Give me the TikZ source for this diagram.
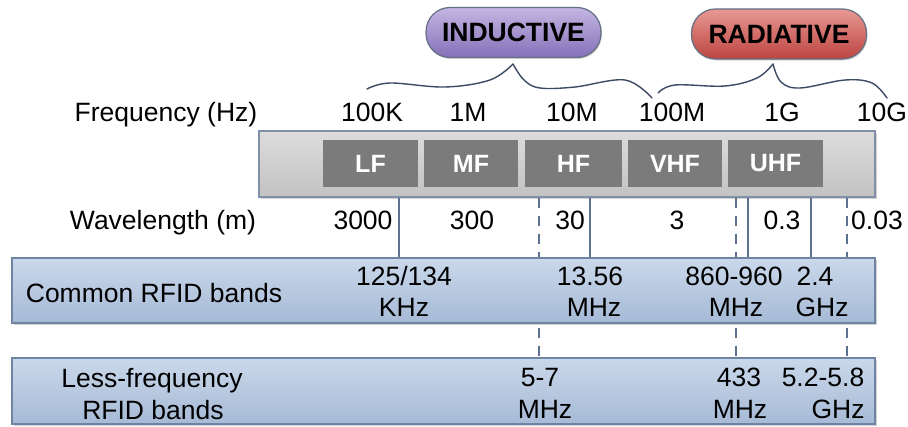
\documentclass[tikz,border=0pt]{standalone}
\usepackage{fontspec}
\setmainfont{Liberation Sans}
\usetikzlibrary{shadows}
\definecolor{linec}{HTML}{5D7290}
\definecolor{darkbox}{HTML}{7B7B7B}
\definecolor{bartop}{HTML}{DCDCDC}
\definecolor{barbot}{HTML}{C2C2C2}
\definecolor{barline}{HTML}{8090A8}
\definecolor{bluetop}{HTML}{CAD8EA}
\definecolor{bluebot}{HTML}{A6BAD6}
\definecolor{blueline}{HTML}{6F84A3}
\definecolor{purtop}{HTML}{C4B6E2}
\definecolor{purbot}{HTML}{8470B8}
\definecolor{redtop}{HTML}{E89893}
\definecolor{redbot}{HTML}{BC4440}
\definecolor{bracec}{HTML}{3C4B63}
\begin{document}
\begin{tikzpicture}[x=1pt,y=-1pt,
  lbl/.style={anchor=base, inner sep=0pt, font=\fontsize{26.5}{29}\selectfont},
  bandbox/.style={fill=darkbox, inner sep=0pt, minimum height=47pt,
    text=white, font=\fontsize{25}{28}\selectfont\bfseries},
  barbox/.style={draw=barline, line width=1.2pt, top color=bartop, bottom color=barbot,
    inner sep=0pt, drop shadow={shadow xshift=1.5pt, shadow yshift=-2pt, opacity=.35}},
  bluebox/.style={draw=blueline, line width=1.2pt, top color=bluetop, bottom color=bluebot,
    inner sep=0pt, minimum width=863pt, drop shadow={shadow xshift=1.5pt, shadow yshift=-2pt, opacity=.35}},
  pill/.style={rounded corners=24pt, draw=bracec!80, line width=1.2pt, inner sep=0pt,
    minimum width=175pt, minimum height=50pt, font=\fontsize{26.5}{29}\selectfont\bfseries,
    drop shadow={shadow xshift=1pt, shadow yshift=-1.5pt, opacity=.3}},
  vsolid/.style={draw=linec, line width=1.6pt},
  vdash/.style={draw=linec, line width=1.6pt, dash pattern=on 10pt off 8pt},
  bracel/.style={draw=bracec, line width=1.4pt, line cap=round}
]
\useasboundingbox (0,0) rectangle (908,426);
\fill[white] (0,0) rectangle (908,426);

% pills
\node[pill, top color=purtop, bottom color=purbot] (ind) at (513.5,32.5) {INDUCTIVE};
\node[pill, top color=redtop, bottom color=redbot] (rad) at (779,34) {RADIATIVE};

% braces
\draw[bracel] plot[smooth, tension=0.6] coordinates {(367,89) (390,83) (445,87) (490,80) (513,64)};
\draw[bracel] plot[smooth, tension=0.6] coordinates {(513,64) (524,80) (540,88) (575,87) (625,80) (652,98)};
\draw[bracel] plot[smooth, tension=0.6] coordinates {(658,93) (675,85) (725,86) (757,78) (773,64)};
\draw[bracel] plot[smooth, tension=0.6] coordinates {(773,64) (781,82) (800,88) (845,80) (872,83) (887,98)};

% frequency row
\node[lbl] (flab) at (166,121) {Frequency (Hz)};
\node[lbl] (f1) at (372,121) {100K};
\node[lbl] (f2) at (468,121) {1M};
\node[lbl] (f3) at (572,121) {10M};
\node[lbl] (f4) at (672,121) {100M};
\node[lbl] (f5) at (782,121) {1G};
\node[lbl] (f6) at (882,121) {10G};

% gray bar
\node[barbox, minimum width=616pt, minimum height=66pt] (bar) at (567,164) {};
\node[bandbox, minimum width=95pt] (lf) at (370.5,163.5) {LF};
\node[bandbox, minimum width=94pt] (mf) at (471,163.5) {MF};
\node[bandbox, minimum width=97pt] (hf) at (573.5,163.5) {HF};
\node[bandbox, minimum width=94pt] (vhf) at (675,163.5) {VHF};
\node[bandbox, minimum width=95pt] (uhf) at (775.5,163.5) {UHF};

% wavelength row
\node[lbl] (wlab) at (163,229) {Wavelength (m)};
\node[lbl] (w1) at (363,229) {3000};
\node[lbl] (w2) at (472,229) {300};
\node[lbl] (w3) at (570,229) {30};
\node[lbl] (w4) at (677,229) {3};
\node[lbl] (w5) at (782,229) {0.3};
\node[lbl] (w6) at (877,229) {0.03};

% boxes
\node[bluebox, minimum height=65pt] (common) at (443.5,290.5) {};
\node[bluebox, minimum height=66pt] (less) at (443.5,391) {};

% line positions
\coordinate (x1) at (399,0);
\coordinate (x2) at (590,0);
\coordinate (x3) at (748,0);
\coordinate (x4) at (811,0);
\coordinate (d1) at (539,0);
\coordinate (d2) at (736,0);
\coordinate (d3) at (847,0);

\foreach \c in {x1,x2,x3,x4}
  \draw[vsolid] (bar.south -| \c) -- (common.north -| \c);
\foreach \c in {d1,d2,d3}{
  \draw[vdash] (bar.south -| \c) -- (common.north -| \c);
  \draw[vdash, dash phase=-4pt] (common.south -| \c) -- (less.north -| \c);
}

% common box texts
\node[lbl] (ctitle) at (154,302) {Common RFID bands};
\node[lbl] (c1a) at (404,285) {125/134};
\node[lbl] (c1b) at (404,316) {KHz};
\node[lbl] (c2a) at (590,285) {13.56};
\node[lbl] (c2b) at (594,316) {MHz};
\node[lbl] (c3a) at (734,285) {860-960};
\node[lbl] (c3b) at (736,316) {MHz};
\node[lbl] (c4a) at (815,285) {2.4};
\node[lbl] (c4b) at (822,316) {GHz};

% less box texts
\node[lbl] (ltitle1) at (152,387) {Less-frequency};
\node[lbl] (ltitle2) at (153,419) {RFID bands};
\node[lbl] (l1a) at (540,386) {5-7};
\node[lbl] (l1b) at (545,418) {MHz};
\node[lbl] (l2a) at (739,386) {433};
\node[lbl] (l2b) at (740,418) {MHz};
\node[lbl] (l3a) at (823,386) {5.2-5.8};
\node[lbl] (l3b) at (838,418) {GHz};
\end{tikzpicture}
\end{document}
